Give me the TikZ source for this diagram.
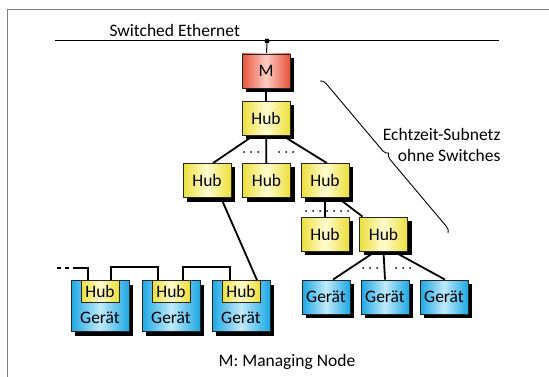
\documentclass[tikz,border=0pt]{standalone}
\usepackage{fontspec}
\setmainfont{Carlito}
\usetikzlibrary{shadows,backgrounds,decorations.pathreplacing}

\definecolor{hubedge}{RGB}{236,222,58}
\definecolor{hubmid}{RGB}{255,252,208}
\definecolor{mgredge}{RGB}{232,82,58}
\definecolor{mgrmid}{RGB}{252,204,194}
\definecolor{devedge}{RGB}{28,168,228}
\definecolor{devmid}{RGB}{192,234,250}

\begin{document}
\begin{tikzpicture}[x=1pt, y=-1pt, font=\fontsize{17.5}{21}\selectfont,
	unit/.style={draw=black!85, line width=0.8pt, minimum width=48pt, minimum height=34pt, inner sep=0pt},
	shadowed/.style={drop shadow={shadow xshift=4pt, shadow yshift=-4pt, fill=black, opacity=1}},
	hub/.style={unit, shadowed, left color=hubedge, right color=hubedge, middle color=hubmid},
	mgr/.style={unit, shadowed, left color=mgredge, right color=mgredge, middle color=mgrmid},
	dev/.style={unit, shadowed, left color=devedge, right color=devedge, middle color=devmid},
	devcase/.style={dev, minimum width=58pt, minimum height=51pt},
	hubslot/.style={unit, minimum width=38pt, minimum height=22pt, anchor=north, left color=hubedge, right color=hubedge, middle color=hubmid},
	wire/.style={line width=1.8pt},
	chainwire/.style={line width=1.3pt},
	gapdots/.style={line width=2pt, line cap=round, dash pattern=on 0pt off 7pt}]
	\useasboundingbox (0,0) rectangle (549,377);
	\draw[black!50, line width=1pt] (7,377) -- (7,10) -- (549,10);

	% backbone
	\coordinate (eth-w) at (55,41);
	\coordinate (eth-e) at (499,41);
	\draw[line width=1pt] (eth-w) -- (eth-e);
	\node[anchor=base west] (eth-lbl) at (106,37) {Switched Ethernet};
	\node[circle, fill, inner sep=0pt, minimum size=5pt] (tap) at (267,41) {};

	% hub tree
	\node[mgr] (m) at (266,71) {M};
	\node[hub] (hub0) at (266,118.5) {Hub};
	\node[hub] (hubA) at (207,180.5) {Hub};
	\node[hub] (hubB) at (266.5,180.5) {Hub};
	\node[hub] (hubC) at (325,180.5) {Hub};
	\node[hub] (hubD) at (325,234) {Hub};
	\node[hub] (hubE) at (383.5,234) {Hub};
	\node[dev] (gerA) at (326,297) {Gerät};
	\node[dev] (gerB) at (385,297) {Gerät};
	\node[dev] (gerC) at (444,297) {Gerät};

	% devices with built-in hub
	\foreach \i/\x in {1/100,2/171,3/241} {
		\node[devcase] (dev\i) at (\x,306) {};
		\node[hubslot] (h\i) at (dev\i.north) {Hub};
		\node (dev\i-lbl) at ([yshift=-12pt]dev\i.center) {Gerät};
	}
	\coordinate (chain-in) at (57,268);

	\begin{scope}[on background layer]
		\draw[line width=1pt] (tap) -- (m);
		\draw[wire] (m) -- (hub0);
		\draw[wire] ([xshift=-13pt]hub0.south) -- ([xshift=6pt]hubA.north);
		\draw[wire] (hub0) -- (hubB);
		\draw[wire] ([xshift=17pt]hub0.south) -- ([xshift=2pt]hubC.north);
		\draw[wire] (hubC) -- (hubD);
		\draw[wire] ([xshift=13pt]hubC.south) -- ([xshift=-21pt]hubE.north);
		\draw[wire] ([xshift=-8pt]hubE.south) -- ([xshift=7pt]gerA.north);
		\draw[wire] (hubE.south) -- (gerB.north);
		\draw[wire] ([xshift=10pt]hubE.south) -- ([xshift=1pt]gerC.north);
		\draw[wire] ([xshift=14pt]hubA.south) -- ([xshift=16pt]h3.north);
		\draw[chainwire, dash pattern=on 4pt off 4pt] (chain-in) -- ++(17,0);
		\draw[chainwire] (chain-in) ++(16,0) -| ([xshift=-12pt]h1.north);
		\draw[chainwire] ([xshift=11pt]h1.north) -- ++(0,-13) -| ([xshift=-13pt]h2.north);
		\draw[chainwire] ([xshift=12pt]h2.north) -- ++(0,-13) -| ([xshift=-11pt]h3.north);
	\end{scope}

	\draw[gapdots] (244,152) -- (259,152) (279,152) -- (294,152);
	\draw[gapdots] (306,211) -- (349,211);
	\draw[gapdots] (363,268) -- (378,268) (396,268) -- (411,268);

	% subnet brace
	\coordinate (brace-top) at (320,81);
	\coordinate (brace-bot) at (448,233);
	\draw[line width=0.9pt, decorate, decoration={brace, amplitude=6pt, aspect=0.5}] (brace-top) -- (brace-bot);
	\node[anchor=east, align=right] (sub-lbl) at (504,145) {Echtzeit-Subnetz\\ohne Switches};

	\node[anchor=base] (legend) at (287,366) {M: Managing Node};
\end{tikzpicture}
\end{document}
